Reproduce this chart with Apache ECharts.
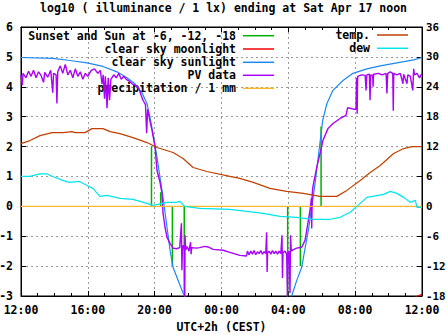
<!DOCTYPE html>
<html><head><meta charset="utf-8">
<script src="https://cdn.jsdelivr.net/npm/echarts@6/dist/echarts.min.js"></script>
<style>html,body{margin:0;padding:0;background:#fff}#c{width:447px;height:335px}</style>
</head><body><div id="c"></div>
<script>
const titleText = 'log10 ( illuminance / 1 lx) ending at Sat Apr 17 noon';
const xAxisName = 'UTC+2h (CEST)';
// x = hours since Fri 12:00
const xTickLabels = ['12:00','16:00','20:00','00:00','04:00','08:00','12:00'];

// sunset / sun at -6, -12, -18 (impulses)
const sunT = [7.81, 8.36, 9.06, 9.77, 15.96, 16.72, 17.42, 17.96];
const sunV = [2.0, 0.47, -2.0, -3.0, -3.0, -2.0, 0.3, 2.67];

// clear sky moonlight (mostly below the plot)
const moonT = [20.0, 22.0, 23.75, 24.0];
const moonV = [-3.8, -3.4, -3.0, -2.94];

// clear sky sunlight (null = below plot at night)
const sunlightT = [0, 1.9, 2.93, 3.95, 4.91, 5.74, 6.34, 6.82, 7.24, 7.54, 7.72, 7.9, 8.14, 8.32, 8.5, 8.74, 8.92, 9.1, 9.4, 9.7, 9.85,
  12.0,
  16.15, 16.2, 16.51, 16.8, 16.98, 17.2, 17.41, 17.6, 17.8, 18.06, 18.31, 18.67, 19.27, 19.87, 20.7, 21.5, 22.5, 23.5, 24];
const sunlightV = [4.98, 4.95, 4.88, 4.8, 4.68, 4.5, 4.3, 4.1, 3.8, 3.44, 2.98, 2.44, 1.64, 0.97, 0.3, -0.7, -1.47, -2.04, -2.47, -2.9, -3.05,
  null,
  -3.05, -3.0, -2.47, -2.04, -1.47, -0.8, 0.0, 0.77, 1.7, 2.88, 3.44, 3.88, 4.21, 4.45, 4.6, 4.7, 4.8, 4.9, 4.98];

// PV data
const pvT = [0.00,0.08,0.12,0.30,0.45,0.60,0.75,0.90,1.05,1.20,1.35,1.42,1.60,1.78,1.90,1.95,2.10,2.15,2.20,2.35,2.50,2.65,2.80,2.95,3.10,3.25,3.40,3.55,3.70,3.85,4.00,4.20,4.40,4.60,4.75,4.85,4.92,5.00,5.05,5.15,5.22,5.30,5.38,5.55,5.70,5.85,6.00,6.15,6.30,6.45,6.65,6.85,7.05,7.20,7.30,7.45,7.52,7.58,7.70,7.84,8.02,8.14,8.32,8.44,8.50,8.62,8.74,8.92,9.10,9.30,9.50,9.60,9.63,9.66,9.72,9.78,9.80,9.82,9.86,9.95,10.05,10.15,10.18,10.22,10.50,10.70,11.00,11.20,11.50,12.10,12.50,13.10,13.50,13.55,13.65,13.75,13.85,13.95,14.05,14.15,14.25,14.35,14.45,14.55,14.65,14.70,14.73,14.76,14.85,14.95,15.05,15.15,15.25,15.35,15.45,15.55,15.62,15.65,15.68,15.80,15.90,15.95,15.98,16.05,16.10,16.13,16.18,16.30,16.50,16.80,17.00,17.18,17.30,17.38,17.40,17.43,17.47,17.70,17.90,18.07,18.37,18.67,19.10,19.45,19.55,19.90,20.05,20.08,20.12,20.15,20.40,20.60,20.65,20.70,20.85,20.89,20.93,21.05,21.07,21.10,21.40,21.60,21.85,21.90,21.95,22.10,22.25,22.28,22.31,22.50,22.70,22.86,22.90,23.10,23.15,23.30,23.45,23.50,23.55,23.70,23.85,24.00];
const pvV = [4.40,4.05,4.45,4.30,4.52,4.35,4.55,4.30,4.50,4.38,4.15,4.48,4.32,4.55,3.80,4.45,4.40,3.44,4.50,4.70,4.45,4.75,4.40,4.55,4.30,4.60,4.35,4.50,4.25,4.45,4.35,4.55,4.60,4.45,4.55,4.10,4.40,3.60,4.35,3.28,4.30,3.55,4.25,4.40,4.30,4.45,4.25,4.35,4.25,4.20,4.10,4.05,3.95,3.70,3.55,3.40,2.45,3.25,2.90,2.55,2.00,1.20,0.80,0.43,-0.23,-0.70,-1.04,-1.24,-1.40,-1.42,-1.38,-0.57,-2.14,-1.40,-1.30,-1.50,-3.10,-0.97,-1.45,-1.35,-1.50,-1.20,-1.60,-1.38,-1.40,-1.38,-1.34,-1.36,-1.44,-1.47,-1.54,-1.64,-1.66,-1.50,-1.62,-1.50,-1.60,-1.48,-1.62,-1.52,-1.58,-1.48,-1.60,-1.52,-1.58,-0.87,-2.20,-1.55,-1.50,-1.60,-1.48,-1.58,-1.50,-1.60,-1.50,-1.58,-0.97,-2.40,-1.55,-1.50,-1.60,-3.10,-1.55,-1.50,-2.90,-0.97,-1.50,-1.45,-1.40,-1.37,-1.14,-0.54,-0.13,0.27,-0.74,0.40,0.65,1.30,1.77,2.20,2.60,2.77,2.94,3.04,3.30,3.25,3.25,4.30,3.10,4.35,4.40,4.38,3.88,4.40,4.42,3.55,4.40,4.38,4.00,4.42,4.45,4.40,4.45,3.78,4.45,4.50,4.45,3.20,4.45,4.40,4.45,4.10,4.42,4.10,4.40,4.35,3.88,4.60,4.40,4.45,4.30,4.45];

// precipitation / 1 mm
const precipT = [0, 24];
const precipV = [0, 0];

// temperature (deg C, right axis)
const tempT = [0,0.54,1.14,1.86,2.51,3.05,3.23,3.83,4.25,4.91,5.33,5.92,6.7,7.54,8.14,9.1,9.7,10.3,11.13,12.5,13.1,13.9,14.9,15.9,16.9,17.9,18.9,19.5,20.3,20.9,21.5,22.3,22.9,23.4,24];
const tempC = [12.6,13.2,14.2,14.8,14.8,15.0,14.8,14.8,15.6,15.6,15.0,14.6,13.8,12.8,11.8,10.8,9.6,7.8,7.0,6.0,5.6,4.8,3.6,3.0,2.6,2.0,2.0,3.2,5.2,6.8,8.2,10.6,11.6,12.0,12.0];

// dew point (deg C, right axis)
const dewT = [0,0.54,1.14,1.56,1.9,2.5,2.9,3.5,3.95,4.3,4.73,5.15,5.92,6.7,7.54,7.9,8.74,9.3,9.5,9.8,10.7,12.5,13.5,14.5,15.5,16.5,17.5,18.5,19.1,19.7,20.1,20.7,21.7,22.1,22.5,22.9,23.3,23.6,23.7,24];
const dewC = [6.0,6.0,6.5,6.5,6.0,5.2,4.8,5.0,4.2,3.6,2.0,2.2,1.6,1.4,0.6,0.2,0.8,0.8,1.0,0.0,-0.4,-0.6,-1.0,-1.4,-2.0,-2.2,-2.6,-2.6,-2.2,-1.2,0.0,1.8,2.4,3.0,2.6,1.8,0.8,1.2,-0.2,-0.2];

const FONT = 'DejaVu Sans Mono';
const txt = {fontFamily: FONT, fontWeight: 'bold', fontSize: 11.5, color: '#000'};

function pairs(t, v) { return t.map((x, i) => [x, v[i] === null ? '-' : v[i]]); }
function impulses(t, v) {
  const d = [];
  t.forEach((x, i) => { d.push([x, 0], [x, v[i]], [x, '-']); });
  return d;
}

const names = ['Sunset and Sun at -6, -12, -18', 'clear sky moonlight', 'clear sky sunlight', 'PV data', 'precipitation / 1 mm', 'temp.', 'dew'];
const colors = ['#00b000', '#f00000', '#1e88f0', '#aa00ff', '#f5b82e', '#c04000', '#00e5ec'];

function leg(name, right, top) {
  return {
    data: [name], right: right, top: top, orient: 'horizontal', align: 'right',
    icon: 'rect', itemWidth: 31, itemHeight: 1.5, padding: 0, selectedMode: false,
    textStyle: Object.assign({}, txt, {lineHeight: 14, padding: [0, 2, 0, 0]})
  };
}

function gridLine() { return {show: true, lineStyle: {color: '#9a9a9a', width: 1, type: [2, 3], dashOffset: 0}}; }
function tick() { return {show: true, inside: true, length: 5, lineStyle: {color: '#000'}}; }
function minor() { return {show: true, splitNumber: 4, length: 3, lineStyle: {color: '#000'}}; }

function line(i, data, extra) {
  return Object.assign({
    name: names[i], type: 'line', data: data, symbol: 'none', showSymbol: false,
    connectNulls: false, clip: true, color: colors[i],
    lineStyle: {color: colors[i], width: 1.2}, emphasis: {disabled: true}, z: 2 + i
  }, extra || {});
}

const chart = echarts.init(document.getElementById('c'), null, {renderer: 'svg'});
chart.setOption({
  animation: false,
  backgroundColor: '#fff',
  title: {text: titleText, left: 'center', top: 2, padding: 0, textStyle: Object.assign({}, txt)},
  legend: [
    leg(names[0], 173, 28.7), leg(names[1], 173, 42), leg(names[2], 173, 55.3),
    leg(names[3], 173, 68.3), leg(names[4], 173, 81.3),
    leg(names[5], 39, 28), leg(names[6], 39, 41.3)
  ],
  grid: {left: 21, right: 25, top: 27, bottom: 39, containLabel: false, outerBoundsMode: 'none',
         show: true, borderColor: '#000', borderWidth: 1, backgroundColor: 'transparent'},
  xAxis: [
    {type: 'value', position: 'bottom', min: 0, max: 24, interval: 4,
     axisLine: {show: true, onZero: false, lineStyle: {color: '#000', width: 1}},
     axisTick: tick(), minorTick: minor(), splitLine: gridLine(),
     axisLabel: Object.assign({}, txt, {margin: 8, formatter: v => xTickLabels[Math.round(v / 4)]}),
     name: xAxisName, nameLocation: 'middle', nameGap: 25, nameTextStyle: Object.assign({}, txt)},
    {type: 'value', position: 'top', min: 0, max: 24, interval: 4,
     axisLine: {show: true, onZero: false, lineStyle: {color: '#000', width: 1}},
     axisTick: tick(), minorTick: minor(), splitLine: {show: false}, axisLabel: {show: false}}
  ],
  yAxis: [
    {type: 'value', position: 'left', min: -3, max: 6, interval: 1,
     axisLine: {show: true, onZero: false, lineStyle: {color: '#000', width: 1}},
     axisTick: tick(), splitLine: gridLine(),
     axisLabel: Object.assign({}, txt, {margin: 8})},
    {type: 'value', position: 'right', min: -18, max: 36, interval: 6,
     axisLine: {show: true, onZero: false, lineStyle: {color: '#000', width: 1}},
     axisTick: tick(), splitLine: {show: false},
     axisLabel: Object.assign({}, txt, {margin: 4, fontSize: 10.8})}
  ],
  series: [
    line(0, impulses(sunT, sunV), {lineStyle: {color: colors[0], width: 1.5}}),
    line(1, pairs(moonT, moonV)),
    line(2, pairs(sunlightT, sunlightV)),
    line(3, pairs(pvT, pvV), {lineStyle: {color: colors[3], width: 1.4}}),
    line(4, pairs(precipT, precipV)),
    line(5, pairs(tempT, tempC), {yAxisIndex: 1}),
    line(6, pairs(dewT, dewC), {yAxisIndex: 1})
  ]
});
</script></body></html>
